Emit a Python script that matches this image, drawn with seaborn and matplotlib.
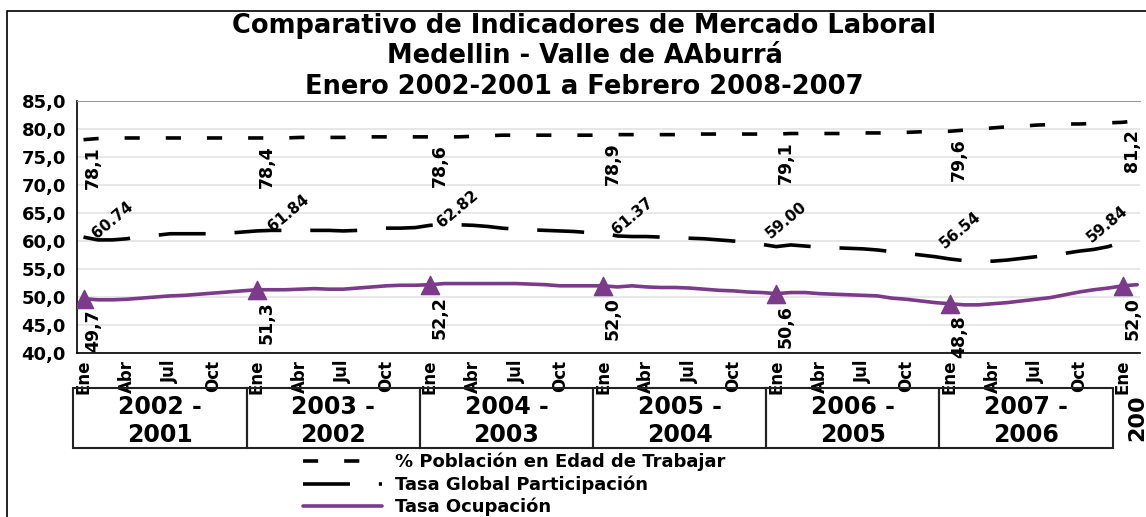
import pandas as pd
import matplotlib
matplotlib.use('Agg')
import matplotlib.pyplot as plt
import seaborn as sns
from matplotlib.patches import Rectangle
from matplotlib.lines import Line2D

# monthly series, Ene 2002 .. Feb 2008
months = ['Ene', 'Feb', 'Mar', 'Abr', 'May', 'Jun', 'Jul', 'Ago', 'Sep', 'Oct', 'Nov', 'Dic']
periods = ['2002 -\n2001', '2003 -\n2002', '2004 -\n2003', '2005 -\n2004', '2006 -\n2005', '2007 -\n2006']

pet = [78.1, 78.3, 78.4, 78.4, 78.4, 78.4, 78.4, 78.4, 78.4, 78.4, 78.4, 78.4,
       78.4, 78.4, 78.4, 78.5, 78.5, 78.5, 78.5, 78.6, 78.6, 78.6, 78.6, 78.6,
       78.6, 78.6, 78.6, 78.7, 78.8, 78.9, 78.9, 78.9, 78.9, 78.9, 78.9, 78.9,
       78.9, 79.0, 79.0, 79.0, 79.0, 79.0, 79.1, 79.1, 79.1, 79.1, 79.1, 79.1,
       79.1, 79.2, 79.2, 79.2, 79.2, 79.2, 79.3, 79.3, 79.3, 79.4, 79.5, 79.5,
       79.6, 79.8, 80.0, 80.2, 80.4, 80.5, 80.7, 80.8, 80.9, 80.9, 81.0, 81.1,
       81.2, 81.5]

tgp = [60.7, 60.2, 60.2, 60.4, 60.8, 61.0, 61.3, 61.3, 61.3, 61.3, 61.4, 61.6,
       61.8, 61.9, 61.9, 61.9, 61.9, 61.9, 61.8, 61.9, 62.2, 62.3, 62.3, 62.4,
       62.8, 62.9, 62.9, 62.8, 62.6, 62.3, 62.1, 62.0, 61.9, 61.8, 61.7, 61.5,
       61.4, 60.9, 60.8, 60.8, 60.7, 60.6, 60.5, 60.4, 60.2, 60.0, 59.8, 59.4,
       59.0, 59.3, 59.1, 58.9, 58.8, 58.7, 58.6, 58.4, 58.1, 57.8, 57.5, 57.2,
       56.8, 56.5, 56.4, 56.4, 56.6, 56.9, 57.2, 57.5, 57.8, 58.2, 58.5, 59.0,
       59.8, 59.8]

to = [49.7, 49.5, 49.5, 49.6, 49.8, 50.0, 50.2, 50.3, 50.5, 50.7, 50.9, 51.1,
      51.3, 51.3, 51.3, 51.4, 51.5, 51.4, 51.4, 51.6, 51.8, 52.0, 52.1, 52.1,
      52.2, 52.4, 52.4, 52.4, 52.4, 52.4, 52.4, 52.3, 52.2, 52.0, 52.0, 52.0,
      52.0, 51.8, 52.0, 51.8, 51.7, 51.7, 51.6, 51.4, 51.2, 51.1, 50.9, 50.8,
      50.6, 50.8, 50.8, 50.6, 50.5, 50.4, 50.3, 50.2, 49.8, 49.6, 49.3, 49.0,
      48.8, 48.6, 48.6, 48.8, 49.0, 49.3, 49.6, 49.9, 50.4, 50.9, 51.3, 51.6,
      52.0, 52.2]

pet_labels = ['78,1', '78,4', '78,6', '78,9', '79,1', '79,6', '81,2']
tgp_labels = ['60.74', '61.84', '62.82', '61.37', '59.00', '56.54', '59.84']
to_labels = ['49,7', '51,3', '52,2', '52,0', '50,6', '48,8', '52,0']
# offsets (points) of the slanted labels from their January point
tgp_offsets = [(21, 12), (23, 13), (20, 12), (21, 12), (7, 19), (8, 21), (-11, 13)]

purple = '#7B3A8A'

df = pd.DataFrame({'idx': range(len(pet)), 'pet': pet, 'tgp': tgp, 'to': to})
ene = df[df['idx'] % 12 == 0]

sns.set_style('white')
plt.rcParams['font.family'] = ['DejaVu Sans']
plt.rcParams['font.weight'] = 'bold'
plt.rcParams['text.color'] = 'black'
plt.rcParams['xtick.color'] = 'black'
plt.rcParams['ytick.color'] = 'black'

fig = plt.figure(figsize=(11.46, 5.17), dpi=100)
ax = fig.add_axes([0.0672, 0.3172, 0.9276, 0.4874])

sns.lineplot(data=df, x='idx', y='pet', ax=ax, color='black', lw=2.6)
ax.lines[-1].set_dashes((4.2, 7.2))
sns.lineplot(data=df, x='idx', y='tgp', ax=ax, color='black', lw=2.6)
ax.lines[-1].set_dashes((13.0, 8.0))
sns.lineplot(data=df, x='idx', y='to', ax=ax, color=purple, lw=2.6)
sns.scatterplot(data=ene, x='idx', y='to', ax=ax, color=purple, marker='^', s=170,
                edgecolor=purple, zorder=5)

# data labels at each January
for (i, row), a, b, c, off in zip(ene.iterrows(), pet_labels, tgp_labels, to_labels, tgp_offsets):
    x = row['idx']
    ax.annotate(a, (x, row['pet']), xytext=(7, -5), textcoords='offset points',
                rotation=90, ha='center', va='top', fontsize=12.5, fontweight='bold')
    ax.annotate(b, (x, row['tgp']), xytext=off, textcoords='offset points',
                rotation=40, ha='center', va='center', fontsize=11, fontweight='bold',
                rotation_mode='anchor')
    ax.annotate(c, (x, row['to']), xytext=(7, -8), textcoords='offset points',
                rotation=90, ha='center', va='top', fontsize=12.5, fontweight='bold')

ax.set_xlim(-0.45, 73.2)
ax.set_ylim(40, 85)
ax.set_yticks(range(40, 86, 5))
ax.set_yticklabels([f'{v},0' for v in range(40, 86, 5)], fontsize=13, fontweight='bold')
ax.set_xticks(range(len(pet)), minor=True)
xt = list(range(0, len(pet), 3))
ax.set_xticks(xt)
ax.set_xticklabels([months[i % 12] for i in xt], rotation=90, fontsize=12, fontweight='bold')
ax.tick_params(axis='x', which='both', direction='out', length=4, width=1, color='black', pad=1)
ax.tick_params(axis='y', direction='out', length=5, width=1, color='black', pad=3)
ax.set_xlabel('')
ax.set_ylabel('')
ax.yaxis.grid(True, color='#e3e3e3', lw=1.2)
ax.set_axisbelow(True)
for s in ['left', 'bottom']:
    ax.spines[s].set_color('black')
    ax.spines[s].set_linewidth(1.2)
ax.spines['top'].set_color('#9a9a9a')
ax.spines['right'].set_visible(False)

# year group boxes under the axis
trans = ax.get_xaxis_transform()
for k, p in enumerate(periods):
    x0 = 12 * k - 0.7
    ax.add_patch(Rectangle((x0, -0.377), 12, 0.238, transform=trans, fill=False,
                           edgecolor='#222222', lw=1.5, clip_on=False))
    ax.text(x0 + 6, -0.27, p, transform=trans, ha='center', va='center',
            fontsize=17, fontweight='bold', linespacing=1.2)
ax.text(73.0, -0.255, '200', transform=trans, rotation=90, ha='center', va='center',
        fontsize=16, fontweight='bold')

# titles
fig.text(0.51, 0.950, 'Comparativo de Indicadores de Mercado Laboral', ha='center',
         va='center', fontsize=18.5, fontweight='bold')
fig.text(0.51, 0.892, 'Medellin - Valle de AAburrá', ha='center', va='center',
         fontsize=18.5, fontweight='bold')
fig.text(0.51, 0.832, 'Enero 2002-2001 a Febrero 2008-2007', ha='center', va='center',
         fontsize=18.5, fontweight='bold')

# outer frame
fig.add_artist(Rectangle((7 / 1146, -0.05), 2.0, 1 - 11 / 517 + 0.05, transform=fig.transFigure,
                         fill=False, edgecolor='black', lw=1.2))

handles = [Line2D([], [], color='black', lw=2.6, dashes=(4.2, 7.2)),
           Line2D([], [], color='black', lw=2.6, dashes=(13.0, 8.0)),
           Line2D([], [], color=purple, lw=2.6)]
fig.legend(handles, ['% Población en Edad de Trabajar', 'Tasa Global Participación', 'Tasa Ocupación'],
           loc='upper left', bbox_to_anchor=(0.258, 0.138), frameon=False,
           handlelength=4.4, handletextpad=0.7, labelspacing=0.22, borderaxespad=0,
           prop={'weight': 'bold', 'size': 13})

fig.savefig('out.png', dpi=100)
